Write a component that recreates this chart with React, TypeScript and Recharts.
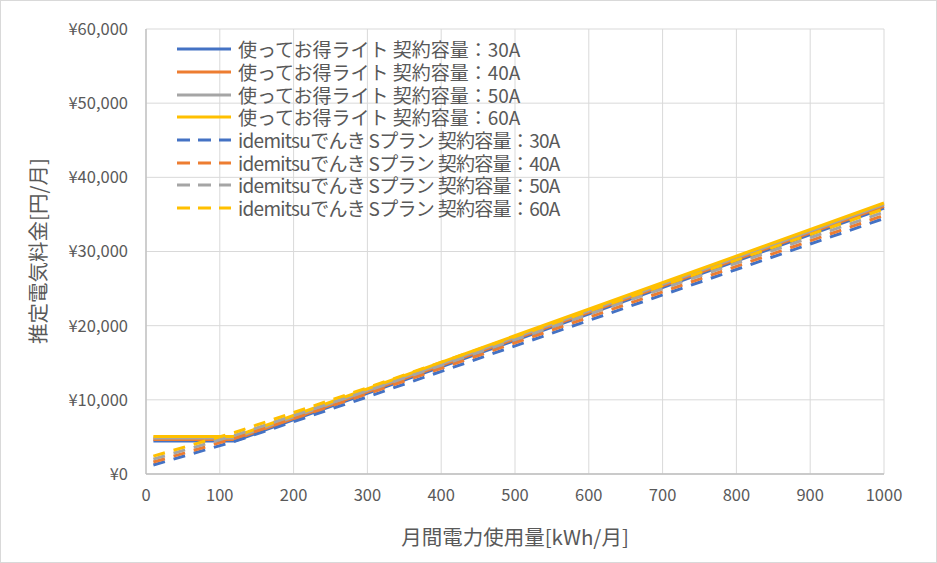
import React from "react";
import { LineChart, Line, XAxis, YAxis, CartesianGrid, Legend, Label } from "recharts";

const liteUsage = [10, 120, 1000];
const lite30 = [4450, 4450, 35850];
const lite40 = [4650, 4650, 36080];
const lite50 = [4850, 4850, 36310];
const lite60 = [5050, 5050, 36540];

const ideUsage = [10, 120, 300, 1000];
const ide30 = [1210, 4400, 10400, 34450];
const ide40 = [1610, 4800, 10810, 34880];
const ide50 = [2010, 5200, 11220, 35310];
const ide60 = [2410, 5600, 11630, 35740];

const xTicks = [0, 100, 200, 300, 400, 500, 600, 700, 800, 900, 1000];
const yTicks = [0, 10000, 20000, 30000, 40000, 50000, 60000];

const liteName = "使ってお得ライト 契約容量：";
const ideName = "idemitsuでんき Sプラン 契約容量：";
const amps = ["30A", "40A", "50A", "60A"];
const colors = ["#4472C4", "#ED7D31", "#A5A5A5", "#FFC000"];

const FONT = '"Noto Sans CJK JP", "Noto Sans", sans-serif';
const TXT = "#595959";

const toData = (xs: number[], ys: number[]) => xs.map((x, i) => ({ x, y: ys[i] }));

const series = [
  ...[lite30, lite40, lite50, lite60].map((ys, i) => ({
    name: liteName + amps[i],
    data: toData(liteUsage, ys),
    color: colors[i],
    dash: undefined as string | undefined,
  })),
  ...[ide30, ide40, ide50, ide60].map((ys, i) => ({
    name: ideName + amps[i],
    data: toData(ideUsage, ys),
    color: colors[i],
    dash: "12 9" as string | undefined,
  })),
];

const yen = (v: number) => "¥" + v.toLocaleString("en-US");

const LegendContent = () => (
  <div style={{ fontFamily: FONT, fontSize: 19, color: TXT }}>
    {series.map((s) => (
      <div key={s.name} style={{ display: "flex", alignItems: "center", height: 22.7 }}>
        <svg width={54} height={6} style={{ marginRight: 7, flexShrink: 0 }}>
          <line x1={0} y1={3} x2={54} y2={3} stroke={s.color} strokeWidth={3} strokeDasharray={s.dash ? "13 8" : undefined} />
        </svg>
        <span style={{ whiteSpace: "nowrap", lineHeight: "20px", letterSpacing: s.dash ? -0.7 : 0 }}>{s.name}</span>
      </div>
    ))}
  </div>
);

export default function App() {
  return (
    <div style={{ position: "absolute", left: 0, top: 0, width: 937, height: 563, background: "#fff" }}>
      <div style={{ position: "absolute", left: 0, top: 0, width: 937, height: 563, boxSizing: "border-box", border: "1px solid #D9D9D9" }} />
      <div style={{ position: "absolute", left: 0, top: 0 }}>
        <LineChart width={937} height={563} margin={{ top: 29, right: 53, bottom: 14, left: 20 }}>
          <CartesianGrid stroke="#D9D9D9" strokeWidth={1} />
          <XAxis
            type="number"
            dataKey="x"
            domain={[0, 1000]}
            ticks={xTicks}
            interval={0}
            height={75}
            tickSize={0}
            tickMargin={15}
            axisLine={{ stroke: "#BFBFBF", strokeWidth: 1.3 }}
            tick={{ fill: TXT, fontSize: 16.5, fontFamily: FONT }}
            allowDuplicatedCategory={false}
          >
            <Label
              content={() => (
                <text x={515} y={536} textAnchor="middle" dominantBaseline="central" fill={TXT} fontSize={20.5} fontFamily={FONT}>
                  月間電力使用量[kWh/月]
                </text>
              )}
            />
          </XAxis>
          <YAxis
            type="number"
            domain={[0, 60000]}
            ticks={yTicks}
            interval={0}
            width={126}
            tickSize={0}
            tickMargin={18}
            tickFormatter={yen}
            axisLine={{ stroke: "#BFBFBF", strokeWidth: 1.3 }}
            tick={{ fill: TXT, fontSize: 16.5, fontFamily: FONT }}
          >
            <Label
              content={() => (
                <text
                  x={37}
                  y={251}
                  transform="rotate(-90 37 251)"
                  textAnchor="middle"
                  dominantBaseline="central"
                  fill={TXT}
                  fontSize={20.5}
                  fontFamily={FONT}
                >
                  推定電気料金[円/月]
                </text>
              )}
            />
          </YAxis>
          <Legend
            layout="vertical"
            align="center"
            verticalAlign="middle"
            content={<LegendContent />}
            wrapperStyle={{ position: "absolute", left: 177, top: 38, width: 440, height: 185 }}
          />
          {series.map((s) => (
            <Line
              key={s.name}
              data={s.data}
              dataKey="y"
              name={s.name}
              type="linear"
              stroke={s.color}
              strokeWidth={3}
              strokeDasharray={s.dash}
              dot={false}
              activeDot={false}
              isAnimationActive={false}
            />
          ))}
        </LineChart>
      </div>
    </div>
  );
}
